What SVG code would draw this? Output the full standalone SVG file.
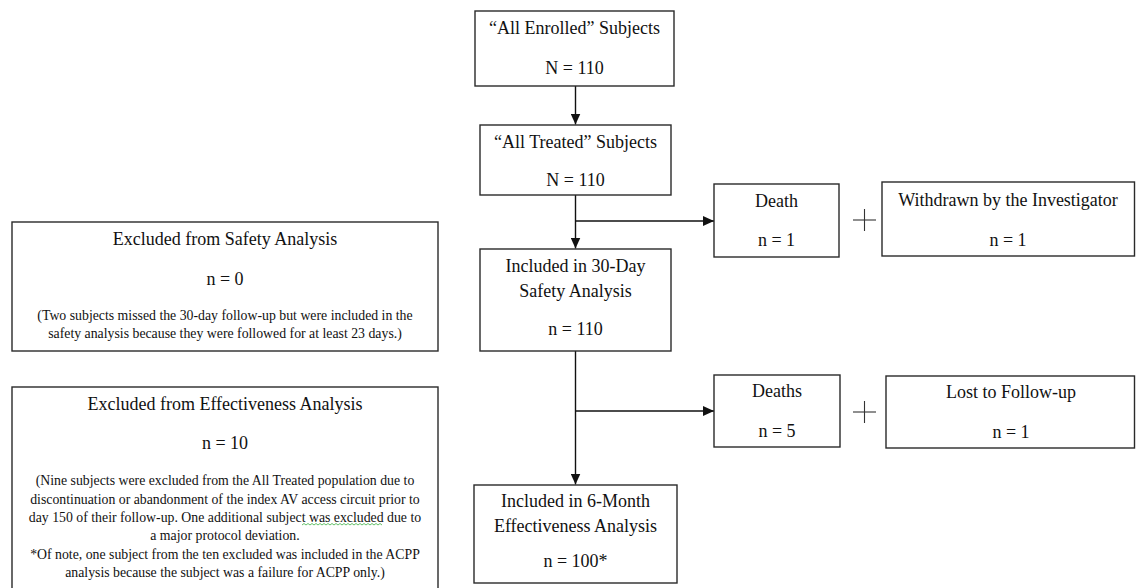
<svg xmlns="http://www.w3.org/2000/svg" width="1136" height="588" viewBox="0 0 1136 588">
  <style>
    .box { fill: #ffffff; stroke: #2a2a2a; stroke-width: 1.4; }
    .t { font-family: "Liberation Serif", "Times New Roman", serif; font-size: 18px; fill: #111; text-anchor: middle; }
    .s { font-family: "Liberation Serif", "Times New Roman", serif; font-size: 13.8px; fill: #111; text-anchor: middle; }
    .conn { stroke: #111; stroke-width: 1.4; fill: none; }
    .plus { stroke: #333; stroke-width: 1.1; fill: none; }
  </style>
  <defs>
    <marker id="arrow" markerUnits="userSpaceOnUse" markerWidth="12" markerHeight="10" refX="11" refY="5" orient="auto">
      <path d="M0,0 L11,5 L0,10 Z" fill="#111"/>
    </marker>
  </defs>
  <rect width="1136" height="588" fill="#ffffff"/>

  <g id="connectors">
    <line class="conn" x1="575.5" y1="86" x2="575.5" y2="124.5" marker-end="url(#arrow)"/>
    <line class="conn" x1="575.5" y1="195" x2="575.5" y2="248.5" marker-end="url(#arrow)"/>
    <line class="conn" x1="575.5" y1="221" x2="714" y2="221" marker-end="url(#arrow)"/>
    <line class="conn" x1="575.5" y1="351" x2="575.5" y2="484.5" marker-end="url(#arrow)"/>
    <line class="conn" x1="575.5" y1="411" x2="714" y2="411" marker-end="url(#arrow)"/>
  </g>

  <g id="enrolled">
    <rect class="box" x="475" y="11" width="199" height="75"/>
    <text class="t" x="574.5" y="34">“All Enrolled” Subjects</text>
    <text class="t" x="574.5" y="74">N = 110</text>
  </g>

  <g id="treated">
    <rect class="box" x="480" y="125" width="191" height="70"/>
    <text class="t" x="575.5" y="148">“All Treated” Subjects</text>
    <text class="t" x="575.5" y="186">N = 110</text>
  </g>

  <g id="death">
    <rect class="box" x="714" y="184" width="125" height="73"/>
    <text class="t" x="776.5" y="207">Death</text>
    <text class="t" x="776.5" y="246">n = 1</text>
  </g>

  <g id="plus1">
    <line class="plus" x1="853" y1="220" x2="876" y2="220"/>
    <line class="plus" x1="864.5" y1="209" x2="864.5" y2="231"/>
  </g>

  <g id="withdrawn">
    <rect class="box" x="882" y="182" width="252.5" height="74"/>
    <text class="t" x="1008" y="206">Withdrawn by the Investigator</text>
    <text class="t" x="1008" y="246">n = 1</text>
  </g>

  <g id="safety30">
    <rect class="box" x="480" y="249" width="191" height="102"/>
    <text class="t" x="575.5" y="272">Included in 30-Day</text>
    <text class="t" x="575.5" y="297">Safety Analysis</text>
    <text class="t" x="575.5" y="335">n = 110</text>
  </g>

  <g id="deaths">
    <rect class="box" x="714" y="375" width="126" height="72"/>
    <text class="t" x="777" y="397">Deaths</text>
    <text class="t" x="777" y="437">n = 5</text>
  </g>

  <g id="plus2">
    <line class="plus" x1="853" y1="412" x2="876" y2="412"/>
    <line class="plus" x1="864.5" y1="401" x2="864.5" y2="423"/>
  </g>

  <g id="lost">
    <rect class="box" x="886" y="376" width="248.5" height="72"/>
    <text class="t" x="1011" y="398">Lost to Follow-up</text>
    <text class="t" x="1011" y="438">n = 1</text>
  </g>

  <g id="effect6m">
    <rect class="box" x="474" y="485" width="203" height="98"/>
    <text class="t" x="575.5" y="507">Included in 6-Month</text>
    <text class="t" x="575.5" y="532">Effectiveness Analysis</text>
    <text class="t" x="575.5" y="567">n = 100*</text>
  </g>

  <g id="excl-safety">
    <rect class="box" x="12" y="222" width="426" height="129"/>
    <text class="t" x="225" y="245">Excluded from Safety Analysis</text>
    <text class="t" x="225" y="285">n = 0</text>
    <text class="s" x="225" y="320">(Two subjects missed the 30-day follow-up but were included in the</text>
    <text class="s" x="225" y="338">safety analysis because they were followed for at least 23 days.)</text>
  </g>

  <g id="excl-effect">
    <rect class="box" x="12" y="387" width="426" height="220"/>
    <text class="t" x="225" y="410">Excluded from Effectiveness Analysis</text>
    <text class="t" x="225" y="449">n = 10</text>
    <text class="s" x="225" y="485">(Nine subjects were excluded  from the All Treated population due to</text>
    <text class="s" x="225" y="503.5">discontinuation or abandonment of the index AV access circuit prior to</text>
    <text class="s" x="225" y="522">day 150 of their follow-up.  One additional subject was excluded due to</text>
    <text class="s" x="225" y="540">a major protocol deviation.</text>
    <text class="s" x="225" y="558.5">*Of note, one subject from the ten excluded was included in the ACPP</text>
    <text class="s" x="225" y="577">analysis because the subject was a failure for ACPP only.)</text>
    <path d="M302,525 l2,-1.5 l2,1.5 l2,-1.5 l2,1.5 l2,-1.5 l2,1.5 l2,-1.5 l2,1.5 l2,-1.5 l2,1.5 l2,-1.5 l2,1.5 l2,-1.5 l2,1.5 l2,-1.5 l2,1.5 l2,-1.5 l2,1.5 l2,-1.5 l2,1.5 l2,-1.5 l2,1.5 l2,-1.5 l2,1.5 l2,-1.5 l2,1.5 l2,-1.5 l2,1.5 l2,-1.5 l2,1.5 l2,-1.5 l2,1.5 l2,-1.5 l2,1.5 l2,-1.5 l2,1.5 l2,-1.5 l2,1.5 l2,-1.5 l2,1.5" fill="none" stroke="#3cb043" stroke-width="0.8"/>
  </g>
</svg>
